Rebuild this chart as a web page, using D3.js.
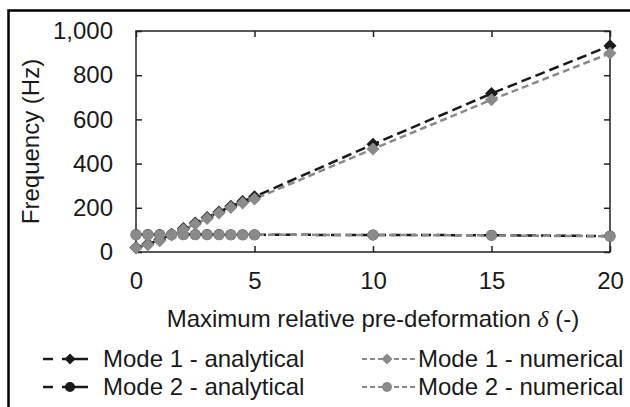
<!DOCTYPE html>
<html><head><meta charset="utf-8">
<script src="https://cdn.jsdelivr.net/npm/d3@7/dist/d3.min.js"></script>
<style>body{margin:0;background:#fff}svg{display:block}text{font-family:"Liberation Sans",Arial,sans-serif;fill:#1a1a1a}</style>
</head><body><svg id="c" width="630" height="407"></svg>
<script>
const delta = [0,0.5,1,1.5,2,2.5,3,3.5,4,4.5,5,10,15,20];
const mode1Analytical = [20,36,55,80,106,131,156,181,207,228,250,487,717,933];
const mode1Numerical  = [18,33,51,77,102,127,152,177,201,222,240,466,689,899];
const mode2Analytical = [79,79,79,79,79,79,79,79,78,78,78,77,76,72];
const mode2Numerical  = [78,78,78,78,78,78,78,78,78,78,78,77,75,71];
const xTicks = [0,5,10,15,20];
const yTicks = [0,200,400,600,800,1000];
const legendLabels = ["Mode 1 - analytical","Mode 2 - analytical","Mode 1 - numerical","Mode 2 - numerical"];

const svg = d3.select("#c");
const black = "#1a1a1a", gray = "#8a8a8a";
const x = d3.scaleLinear().domain([0,20]).range([136,610]);
const y = d3.scaleLinear().domain([0,1000]).range([252,31]);
const FS = 24;

// outer frame
svg.append("path").attr("d","M8.5,407V10.5H630").attr("fill","none").attr("stroke","#000").attr("stroke-width",2.5);

// plot box
svg.append("rect").attr("x",x(0)).attr("y",y(1000)).attr("width",x(20)-x(0)).attr("height",y(0)-y(1000))
  .attr("fill","none").attr("stroke","#222").attr("stroke-width",1.5);

// axes with inside ticks
const gx = svg.append("g").attr("transform",`translate(0,${y(0)})`)
  .call(d3.axisBottom(x).tickValues(xTicks).tickSizeInner(-6).tickSizeOuter(0).tickPadding(20));
const gxTop = svg.append("g").attr("transform",`translate(0,${y(1000)})`)
  .call(d3.axisTop(x).tickValues(xTicks).tickSizeInner(-6).tickSizeOuter(0).tickFormat(""));
const gy = svg.append("g").attr("transform",`translate(${x(0)},0)`)
  .call(d3.axisLeft(y).tickValues(yTicks).tickSizeInner(-6).tickSizeOuter(0).tickPadding(23).tickFormat(d3.format(",")));
const gyR = svg.append("g").attr("transform",`translate(${x(20)},0)`)
  .call(d3.axisRight(y).tickValues(yTicks).tickSizeInner(-6).tickSizeOuter(0).tickFormat(""));
[gx,gxTop,gy,gyR].forEach(g=>{
  g.select(".domain").remove();
  g.selectAll(".tick line").attr("stroke","#222").attr("stroke-width",1.5);
  g.selectAll(".tick text").attr("font-size",FS).attr("fill","#1a1a1a").attr("font-family","Liberation Sans, Arial, sans-serif");
});
gx.selectAll(".tick text").attr("dy","0.71em");

// axis titles
const xt = svg.append("text").attr("x",(x(0)+x(20))/2).attr("y",327).attr("text-anchor","middle").attr("font-size",FS);
xt.append("tspan").text("Maximum relative pre-deformation ");
xt.append("tspan").attr("font-family","Liberation Serif, serif").attr("font-style","italic").text("δ");
xt.append("tspan").text(" (-)");
svg.append("text").attr("transform",`translate(39,${(y(0)+y(1000))/2}) rotate(-90)`).attr("text-anchor","middle").attr("font-size",FS).text("Frequency (Hz)");

const line = d3.line().x((d,i)=>x(delta[i])).y(d=>y(d));
function diamondPath(s){ return `M0,${-s}L${s},0L0,${s}L${-s},0Z`; }

const series = [
  {vals:mode1Analytical,color:black,shape:"d",dash:"10,5"},
  {vals:mode2Analytical,color:black,shape:"c",dash:"10,5"},
  {vals:mode1Numerical,color:gray,shape:"d",dash:"7,4"},
  {vals:mode2Numerical,color:gray,shape:"c",dash:"7,4"}
];
series.forEach(s=>{
  svg.append("path").attr("d",line(s.vals)).attr("fill","none").attr("stroke",s.color).attr("stroke-width",2.5).attr("stroke-dasharray",s.dash);
});
series.forEach(s=>{
  const g = svg.append("g");
  s.vals.forEach((v,i)=>{
    if(s.shape==="d") g.append("path").attr("d",diamondPath(6.5)).attr("transform",`translate(${x(delta[i])},${y(v)})`).attr("fill",s.color);
    else g.append("circle").attr("cx",x(delta[i])).attr("cy",y(v)).attr("r",5.5).attr("fill",s.color);
  });
});

// legend
const legendPos = [[43,359],[43,387],[362,359],[362,387]];
const legendSym = [
  {color:black,shape:"d",dash:"5,3"},
  {color:black,shape:"c",dash:"5,3"},
  {color:gray,shape:"d",dash:"5,3"},
  {color:gray,shape:"c",dash:"5,3"}
];
legendLabels.forEach((lab,i)=>{
  const [lx,ly] = legendPos[i], s = legendSym[i];
  const g = svg.append("g").attr("transform",`translate(${lx},${ly})`);
  if(i<2){
    g.append("line").attr("x1",0).attr("x2",10).attr("stroke",s.color).attr("stroke-width",2.5);
    g.append("line").attr("x1",19).attr("x2",45).attr("stroke",s.color).attr("stroke-width",2.5);
    if(s.shape==="d") g.append("path").attr("d",diamondPath(5.5)).attr("transform","translate(27,0)").attr("fill",s.color);
    else g.append("circle").attr("cx",27).attr("r",5).attr("fill",s.color);
    g.append("text").attr("x",60).attr("dy","0.35em").attr("font-size",FS).text(lab);
  } else {
    g.append("line").attr("x1",0).attr("x2",53).attr("stroke",s.color).attr("stroke-width",2).attr("stroke-dasharray",s.dash);
    if(s.shape==="d") g.append("path").attr("d",diamondPath(5.5)).attr("transform","translate(25,0)").attr("fill",s.color);
    else g.append("circle").attr("cx",25).attr("r",5).attr("fill",s.color);
    g.append("text").attr("x",56).attr("dy","0.35em").attr("font-size",FS).text(lab);
  }
});
</script></body></html>
